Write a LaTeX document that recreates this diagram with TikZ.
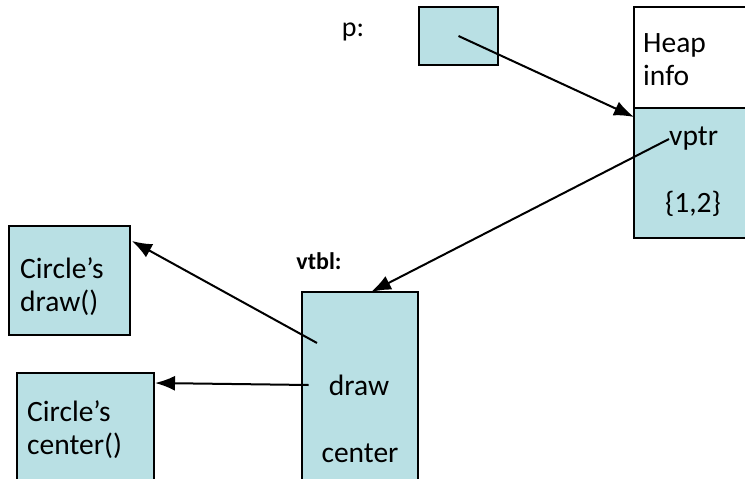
\documentclass[tikz,border=0pt]{standalone}
\usepackage{fontspec}
\setmainfont{Carlito}
\usetikzlibrary{arrows.meta,positioning}
\definecolor{cellfill}{RGB}{185,224,228}
\tikzset{>={Latex[length=20pt,width=15pt]}}

\begin{document}
\begin{tikzpicture}[x=1pt,y=-1pt]
  \useasboundingbox (0,0) rectangle (745,479);
  \tikzstyle{box}=[draw=black, line width=1.5pt, fill=cellfill, anchor=north west, inner sep=0pt, outer sep=0pt]
  \tikzstyle{txt}=[inner sep=0pt, font=\fontsize{29.5}{33}\selectfont, align=left]
  \tikzstyle{ptr}=[->, line width=2pt, black]

  % pointer p
  \node[txt, font=\fontsize{28}{32}\selectfont] (PL) at (353,32) {p:};
  \node[box, minimum width=79pt, minimum height=58pt] (P) at (419,7) {};

  % heap object
  \node[box, fill=white, minimum width=140pt, minimum height=101pt] (H1) at (634,7) {};
  \node[box, minimum width=140pt, minimum height=130pt] (H2) at (634,108) {};
  \node[txt, anchor=west] (HI) at (643,60) {Heap\\info};
  \node[txt, anchor=west] (VP) at (669,139) {vptr};
  \node[txt] (VAL) at (693,204) {\{1,2\}};

  % vtbl
  \node[txt, font=\fontsize{24}{28}\selectfont\bfseries] (VT) at (319,261) {vtbl:};
  \node[box, minimum width=116pt, minimum height=210pt] (V) at (302,292) {};
  \node[txt] (DR) at (359,385) {draw};
  \node[txt] (CE) at (360,453) {center};

  % functions
  \node[box, minimum width=121pt, minimum height=109pt] (CD) at (9,226) {};
  \node[txt, anchor=west] (CDT) at (20,287) {Circle’s\\draw()};
  \node[box, minimum width=137pt, minimum height=130pt] (CC) at (17,373) {};
  \node[txt, anchor=west] (CCT) at (27,430) {Circle’s\\center()};

  \coordinate (S3) at (317,343);

  \draw[ptr] (P.center) -- ([yshift=-9pt]H2.north west);
  \draw[ptr] (VP.west) -- ([xshift=11pt]V.north);
  \draw[ptr] (S3) -- ([xshift=2pt,yshift=-15pt]CD.north east);
  \draw[ptr] ([xshift=-20pt]DR.west) -- ([xshift=1pt,yshift=-10pt]CC.north east);
\end{tikzpicture}
\end{document}
